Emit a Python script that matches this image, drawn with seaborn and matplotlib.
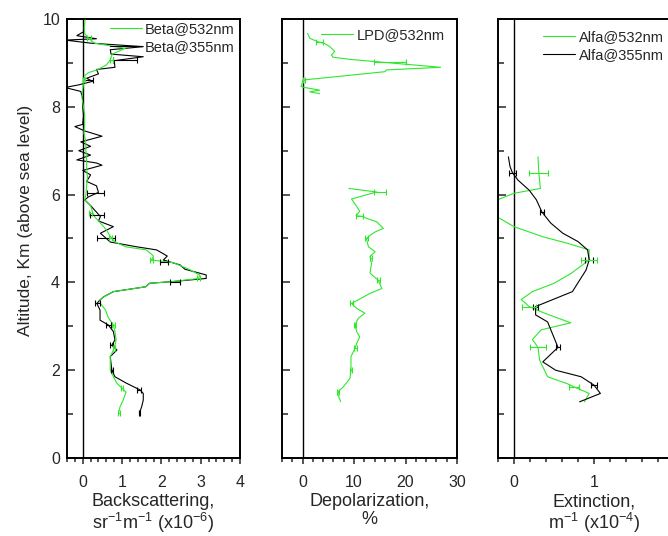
import numpy as np
import matplotlib
matplotlib.use("Agg")
import matplotlib.pyplot as plt
from matplotlib.ticker import MultipleLocator
import seaborn as sns

# ---------------- profiles (altitude in km, top to bottom) ----------------
beta532_alt = [9.98, 9.8, 9.67, 9.56, 9.45, 9.33, 9.2, 9.07, 8.95, 8.84, 8.78, 8.72,
               8.6, 8.4, 8.2, 8.0, 7.8, 7.6, 7.4, 7.2, 7.0, 6.8, 6.6, 6.4, 6.2, 6.0,
               5.88, 5.75, 5.6, 5.5, 5.35, 5.2, 5.05, 4.92, 4.81, 4.74, 4.6, 4.51,
               4.45, 4.3, 4.17, 4.09, 4.02, 3.98, 3.9, 3.79, 3.67, 3.6, 3.52, 3.37,
               3.2, 3.03, 2.88, 2.69, 2.57, 2.46, 2.31, 2.0, 1.85, 1.7, 1.59, 1.5,
               1.32, 1.17, 1.02]
beta532 = [0.06, 0.04, 0.05, 0.15, 0.3, 1.08, 0.75, 0.7, 0.6, 0.36, 0.15, 0.06,
           0.03, 0.0, -0.02, 0.02, 0.05, 0.05, 0.03, 0.08, 0.08, 0.1, 0.1, 0.12, 0.1, 0.08,
           0.05, 0.2, 0.25, 0.3, 0.45, 0.6, 0.7, 0.82, 1.1, 1.62, 1.8, 1.75,
           2.3, 2.7, 2.97, 2.95, 2.3, 1.7, 1.6, 0.78, 0.53, 0.44, 0.45, 0.58,
           0.65, 0.78, 0.82, 0.85, 0.82, 0.78, 0.7, 0.7, 0.78, 0.87, 1.0, 1.1,
           1.03, 0.95, 0.91]

beta355_alt = [9.7, 9.62, 9.55, 9.52, 9.45, 9.37, 9.3, 9.2, 9.14, 9.05, 8.9, 8.85,
               8.75, 8.65, 8.58, 8.5, 8.44, 8.35, 8.2, 8.0, 7.8, 7.6, 7.55, 7.45,
               7.33, 7.2, 7.1, 7.0, 6.9, 6.79, 6.72, 6.67, 6.55, 6.45, 6.3, 6.2,
               6.05, 5.95, 5.88, 5.75, 5.6, 5.5, 5.4, 5.27, 5.12, 5.0, 4.92, 4.81,
               4.74, 4.6, 4.51, 4.4, 4.3, 4.17, 4.09, 4.02, 3.98, 3.9, 3.79, 3.67,
               3.6, 3.52, 3.37, 3.14, 3.03, 2.88, 2.69, 2.57, 2.46, 2.31, 2.0, 1.85,
               1.7, 1.55, 1.47, 1.32, 1.17, 1.02]
beta355 = [0.0, -0.15, 0.35, -0.45, 0.2, 1.54, 0.7, 0.72, 1.54, 0.8, 0.82, 0.35,
           0.4, 0.1, 0.25, -0.1, -0.45, -0.05, 0.0, 0.0, 0.02, 0.0, -0.2, 0.05,
           0.49, -0.05, 0.2, -0.1, 0.2, -0.15, 0.35, 0.49, 0.0, 0.2, 0.1, 0.35,
           0.4, 0.15, 0.05, 0.2, 0.35, 0.45, 0.4, 0.78, 0.45, 0.6, 0.7, 1.38,
           1.88, 2.15, 2.05, 2.47, 2.6, 3.14, 3.14, 2.3, 1.7, 1.6, 0.78, 0.53,
           0.44, 0.36, 0.44, 0.44, 0.65, 0.78, 0.82, 0.74, 0.87, 0.7, 0.74, 0.82,
           1.12, 1.46, 1.54, 1.54, 1.5, 1.44]

# error bars: altitude, value, half-width
beta355_eb_alt = [9.07, 8.6, 6.03, 5.53, 5.0, 4.47, 4.02, 3.52, 3.03, 2.57, 2.0, 1.55, 1.02]
beta355_eb_val = [1.08, 0.13, 0.32, 0.36, 0.59, 2.06, 2.34, 0.38, 0.66, 0.74, 0.74, 1.44, 1.44]
beta355_eb_err = [0.30, 0.13, 0.21, 0.17, 0.23, 0.10, 0.13, 0.06, 0.07, 0.04, 0.02, 0.05, 0.02]

beta532_eb_alt = [9.56, 9.07, 8.6, 5.57, 5.0, 4.52, 4.09, 3.03, 2.5, 1.59, 1.02]
beta532_eb_val = [0.15, 0.74, 0.03, 0.2, 0.7, 1.75, 2.95, 0.78, 0.8, 1.0, 0.92]
beta532_eb_err = [0.05, 0.04, 0.02, 0.04, 0.04, 0.03, 0.04, 0.03, 0.02, 0.03, 0.02]

# linear particle depolarization (two retrieved layers)
lpd_up_alt = [9.67, 9.56, 9.48, 9.44, 9.37, 9.26, 9.18, 9.13, 9.08, 9.03, 8.9,
              8.84, 8.8, 8.61, 8.46, 8.44, 8.38, 8.34, 8.3]
lpd_up = [1.0, 1.4, 3.0, 4.3, 5.3, 6.25, 5.6, 5.9, 9.2, 14.1, 26.8,
          16.3, 16.0, 0.1, -0.3, 0.4, 3.3, 1.4, 3.3]
lpd_lo_alt = [6.14, 6.06, 5.9, 5.75, 5.62, 5.52, 5.5, 5.46, 5.38, 5.23, 5.15, 5.07,
              5.0, 4.81, 4.7, 4.59, 4.43, 4.21, 4.05, 3.86, 3.75, 3.52, 3.41, 3.3,
              3.18, 3.03, 2.88, 2.76, 2.61, 2.5, 2.31, 2.0, 1.81, 1.62, 1.51,
              1.44, 1.28]
lpd_lo = [9.0, 14.4, 9.5, 10.4, 11.1, 10.4, 11.8, 12.4, 14.4, 15.7, 14.1, 13.1,
          12.4, 12.8, 14.1, 13.1, 13.4, 13.1, 14.7, 15.4, 13.1, 9.5, 10.5, 12.1,
          10.8, 10.2, 10.5, 11.1, 10.5, 10.2, 9.4, 9.4, 9.2, 7.9, 6.9,
          6.9, 7.4]
lpd_eb_alt = [9.48, 9.03, 8.6, 6.06, 5.52, 5.0, 4.55, 4.05, 3.52, 3.03, 2.5, 2.0, 1.51]
lpd_eb_val = [3.3, 17.0, 0.3, 15.0, 11.0, 12.4, 13.3, 14.7, 9.5, 10.2, 10.2, 9.4, 6.9]
lpd_eb_err = [0.7, 3.1, 0.2, 1.2, 0.7, 0.3, 0.2, 0.3, 0.3, 0.2, 0.3, 0.2, 0.2]

# extinction
alfa532_alt = [6.86, 6.5, 6.14, 6.03, 5.9, 5.68, 5.46, 5.27, 5.04, 4.89, 4.74,
               4.52, 4.43, 4.2, 3.98, 3.79, 3.61, 3.45, 3.3, 3.08, 2.92, 2.7,
               2.52, 2.23, 1.85, 1.69, 1.62, 1.47, 1.28]
alfa532 = [0.3, 0.31, 0.33, 0.0, -0.18, -0.45, -0.18, 0.0, 0.36, 0.67, 0.94,
           0.94, 0.88, 0.71, 0.5, 0.23, 0.09, 0.19, 0.38, 0.71, 0.34, 0.23,
           0.3, 0.32, 0.42, 0.67, 0.75, 0.94, 0.88]
alfa355_alt = [6.86, 6.64, 6.5, 6.33, 6.1, 5.88, 5.6, 5.35, 5.12, 4.93, 4.74,
               4.51, 4.28, 3.79, 3.45, 3.26, 3.1, 2.52, 2.19, 2.0, 1.85, 1.66,
               1.47, 1.28]
alfa355 = [-0.07, -0.05, -0.02, 0.05, 0.19, 0.28, 0.35, 0.46, 0.61, 0.8, 0.92,
           0.94, 0.9, 0.73, 0.27, 0.27, 0.42, 0.55, 0.36, 0.52, 0.84, 1.0,
           1.08, 0.82]
alfa355_eb_alt = [6.5, 5.6, 4.51, 3.45, 2.52, 1.66]
alfa355_eb_val = [-0.02, 0.35, 0.94, 0.27, 0.55, 1.0]
alfa355_eb_err = [0.04, 0.03, 0.05, 0.03, 0.03, 0.04]
alfa532_eb_alt = [6.5, 4.52, 3.45, 2.52, 1.62]
alfa532_eb_val = [0.31, 0.94, 0.19, 0.3, 0.75]
alfa532_eb_err = [0.12, 0.10, 0.09, 0.10, 0.06]

# ---------------- styling ----------------
sns.set_style("ticks")
plt.rcParams['font.family'] = ['Liberation Sans', 'DejaVu Sans']
plt.rcParams['mathtext.fontset'] = 'custom'
plt.rcParams['mathtext.rm'] = 'Liberation Sans'
plt.rcParams['mathtext.it'] = 'Liberation Sans'

GREEN = '#2ee82e'
BLACK = '#000000'
LW = 0.8
LABEL_FS = 13
TICK_FS = 11.5
LEG_FS = 10.5

fig = plt.figure(figsize=(6.68, 5.36), dpi=100)
ax1 = fig.add_axes([67 / 668, 78 / 536, 173 / 668, 439 / 536])
ax2 = fig.add_axes([282 / 668, 78 / 536, 175 / 668, 439 / 536])
ax3 = fig.add_axes([498 / 668, 78 / 536, 192 / 668, 439 / 536])


def style_axis(ax, xlim, xmajor, xminor, show_ylabels):
    ax.set_ylim(0, 10)
    ax.set_xlim(*xlim)
    ax.axvline(0, color='black', lw=1.0, zorder=1)
    ax.yaxis.set_major_locator(MultipleLocator(2))
    ax.yaxis.set_minor_locator(MultipleLocator(1))
    ax.xaxis.set_major_locator(MultipleLocator(xmajor))
    ax.xaxis.set_minor_locator(MultipleLocator(xminor))
    ax.tick_params(axis='y', which='both', direction='in', left=True, right=False,
                   width=1.1, labelsize=TICK_FS, labelleft=show_ylabels, pad=5)
    ax.tick_params(axis='y', which='major', length=6)
    ax.tick_params(axis='y', which='minor', length=4)
    ax.tick_params(axis='x', which='both', direction='out', bottom=True, top=False,
                   width=1.1, labelsize=TICK_FS, pad=8)
    ax.tick_params(axis='x', which='major', length=4)
    ax.tick_params(axis='x', which='minor', length=3)
    for s in ax.spines.values():
        s.set_visible(True)
        s.set_linewidth(1.4)
        s.set_color('black')
    ax.set_ylabel('')


def err(ax, alt, val, e, color):
    ax.errorbar(val, alt, xerr=e, fmt='none', ecolor=color, elinewidth=LW,
                capsize=2.2, capthick=LW, zorder=3)


def legend(ax, loc, anchor):
    ax.legend(loc=loc, bbox_to_anchor=anchor, frameon=False, fontsize=LEG_FS,
              handlelength=2.2, handletextpad=0.25, labelspacing=0.3,
              borderaxespad=0.0, borderpad=0.0)


XLAB = dict(fontsize=LABEL_FS, labelpad=2.5, linespacing=1.06)

# Backscattering
sns.lineplot(x=beta532, y=beta532_alt, sort=False, estimator=None, color=GREEN,
             lw=LW, ax=ax1, label='Beta@532nm', zorder=3)
sns.lineplot(x=beta355, y=beta355_alt, sort=False, estimator=None, color=BLACK,
             lw=LW, ax=ax1, label='Beta@355nm', zorder=2)
err(ax1, beta355_eb_alt, beta355_eb_val, beta355_eb_err, BLACK)
err(ax1, beta532_eb_alt, beta532_eb_val, beta532_eb_err, GREEN)
style_axis(ax1, (-0.4, 4), 1, 0.2, True)
ax1.set_ylabel('Altitude, Km (above sea level)', fontsize=12.5)
ax1.yaxis.set_label_coords(-0.197, 0.542)
ax1.set_xlabel('Backscattering,\nsr$^{-1}$m$^{-1}$ (x10$^{-6}$)', **XLAB)
legend(ax1, 'upper right', (0.971, 0.993))

# Depolarization
sns.lineplot(x=lpd_up, y=lpd_up_alt, sort=False, estimator=None, color=GREEN,
             lw=LW, ax=ax2, label='LPD@532nm')
sns.lineplot(x=lpd_lo, y=lpd_lo_alt, sort=False, estimator=None, color=GREEN,
             lw=LW, ax=ax2)
err(ax2, lpd_eb_alt, lpd_eb_val, lpd_eb_err, GREEN)
style_axis(ax2, (-4, 30), 10, 2, False)
ax2.set_xlabel('Depolarization,\n%', **XLAB)
legend(ax2, 'upper left', (0.223, 0.979))

# Extinction
sns.lineplot(x=alfa532, y=alfa532_alt, sort=False, estimator=None, color=GREEN,
             lw=LW, ax=ax3, label='Alfa@532nm')
sns.lineplot(x=alfa355, y=alfa355_alt, sort=False, estimator=None, color=BLACK,
             lw=LW, ax=ax3, label='Alfa@355nm')
err(ax3, alfa355_eb_alt, alfa355_eb_val, alfa355_eb_err, BLACK)
err(ax3, alfa532_eb_alt, alfa532_eb_val, alfa532_eb_err, GREEN)
style_axis(ax3, (-0.2, 2.2), 1, 0.2, False)
ax3.set_xlabel('Extinction,\nm$^{-1}$ (x10$^{-4}$)', **XLAB)
legend(ax3, 'upper left', (0.234, 0.975))

fig.savefig('out.png', dpi=100)
